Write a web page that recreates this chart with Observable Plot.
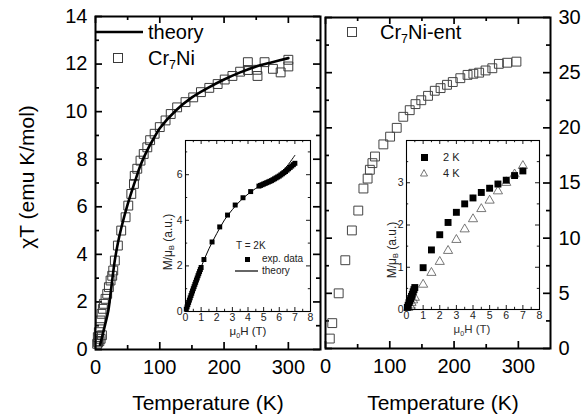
<!DOCTYPE html>
<html><head><meta charset="utf-8">
<script src="https://cdn.jsdelivr.net/npm/d3@7"></script>
<script src="https://cdn.jsdelivr.net/npm/@observablehq/plot@0.6"></script>
<style>
body{margin:0;background:#fff;}
#root{position:relative;width:585px;height:416px;overflow:hidden;background:#fff;font-family:'Liberation Sans',Arial,Helvetica,sans-serif;color:#000;}
#root > svg{position:absolute;}
.t{position:absolute;white-space:nowrap;line-height:1;}
.t sub{font-size:0.62em;vertical-align:-0.32em;line-height:0;}
</style></head><body><div id="root"></div><script>
// ---------- data: main left panel (Cr7Ni) ----------
const cr7niT   = [2.6,3.6,5.2,6.8,7.8,9.4,11.4,13,15.6,18.2,20.8,23.4,26,27.6,30.1,4,6,8,10,
                  34.8,40,46.8,51,55.7,59.8,61,65,70,75,80.6,85,92,100,109,117,127,140,152,164,177,190,201,213,225,237,237,251,252,263,276,288,300,300];
const cr7niChi = [0.24,0.52,0.73,0.94,1.22,1.5,1.71,1.92,2.13,2.34,2.62,2.9,3.1,3.32,3.74,0.3,0.35,0.45,0.6,
                  4.37,5.0,5.56,6.05,6.54,6.96,7.3,7.6,7.94,8.22,8.5,8.8,9.07,9.35,9.63,9.9,10.18,10.4,10.6,10.82,11.0,11.16,11.35,11.5,11.68,12.08,11.75,11.76,11.5,12.08,11.8,11.65,12.18,11.9];
const theoryT   = [7,10,15,20,25,30,35,40,50,60,70,80,90,100,125,150,175,200,225,250,275,300];
const theoryChi = [0.2,0.5,1.05,1.64,2.7,3.74,4.5,5.1,6.1,6.95,7.75,8.35,8.85,9.3,10.05,10.6,11.0,11.35,11.65,11.9,12.08,12.25];
// ---------- data: main right panel (Cr7Ni-ent) ----------
const entT   = [6.7,10.5,20.5,30.8,41,51,59,65.5,69,73,77,90,100.5,110.8,121,131,140,149,159.5,170,179,189,198,209.7,221,230,239,249,259.5,269.7,282.6,297];
const entChi = [0.9,2.3,5.0,8.0,10.7,12.5,14.5,15.4,16.2,16.8,17.4,18.5,19.2,20.0,21.0,21.6,22.15,22.5,22.9,23.36,23.6,23.9,24.15,24.5,24.8,24.9,25.0,25.2,25.4,25.8,25.9,26.0];
// ---------- data: left inset (T = 2K) ----------
const magH = [0.05,0.1,0.15,0.2,0.25,0.3,0.35,0.4,0.45,0.5,0.55,0.6,0.65,0.7,0.75,0.8,0.85,0.9,0.95,1.0,
              1.18,1.7,2.19,2.69,3.18,3.68,4.17,
              4.7,4.8,4.9,5.0,5.1,5.2,5.3,5.4,5.5,5.6,5.7,5.8,5.9,6.0,6.1,6.2,6.3,6.4,6.5,6.6,6.7,6.8,6.9,7.0];
const magM = [0.1,0.2,0.3,0.4,0.5,0.6,0.7,0.8,0.9,1.0,1.09,1.19,1.28,1.38,1.47,1.57,1.66,1.75,1.84,1.93,
              2.28,3.05,3.71,4.23,4.67,4.99,5.26,
              5.5,5.53,5.56,5.59,5.62,5.65,5.68,5.71,5.74,5.78,5.82,5.86,5.9,5.94,5.99,6.04,6.09,6.14,6.2,6.26,6.32,6.38,6.44,6.5];
const magTheoryH = [0,0.5,1,1.5,2,2.5,3,3.5,4,4.5,5,5.5,6,6.5,7];
const magTheoryM = [0,1.0,1.95,2.75,3.42,4.02,4.47,4.85,5.15,5.4,5.58,5.78,6.02,6.38,6.85];
// ---------- data: right inset (2 K, 4 K) ----------
const h2K = [0.05,0.1,0.15,0.2,0.25,0.3,0.35,0.4,0.45,0.5,1,1.5,2,2.5,3,3.5,4,4.5,5,5.5,6,6.5,7];
const m2K = [0.05,0.1,0.16,0.21,0.26,0.31,0.36,0.42,0.47,0.52,0.99,1.41,1.77,2.06,2.30,2.50,2.64,2.77,2.87,2.97,3.06,3.17,3.28];
const err2K = [0,0,0,0,0,0,0,0,0,0,0.03,0.04,0.05,0.05,0.06,0.06,0.07,0.07,0.07,0.07,0.08,0.08,0.08];
const h4K = [0.1,0.2,0.3,0.4,0.5,1,1.5,2,2.5,3,3.5,4,4.5,5,5.5,6,6.5,7];
const m4K = [0.04,0.1,0.16,0.22,0.28,0.59,0.87,1.13,1.39,1.65,1.90,2.14,2.38,2.58,2.80,3.0,3.2,3.4];
// ---------- tick values ----------
const tempTicks = [0,100,200,300];
const tempMinor = [50,150,250];
const chiLeftTicks = [0,2,4,6,8,10,12,14];
const chiLeftMinor = [1,3,5,7,9,11,13];
const chiRightTicks = [0,5,10,15,20,25,30];
const chiRightMinor = [2.5,7.5,12.5,17.5,22.5,27.5];
const fieldTicks = [0,1,2,3,4,5,6,7,8];
const fieldMinor = [0.5,1.5,2.5,3.5,4.5,5.5,6.5,7.5];
const mLeftTicks = [0,2,4,6];
const mLeftMinor = [1,3,5,7];
const mRightTicks = [0,1,2,3];
const mRightMinor = [0.5,1.5,2.5,3.5];

const FONT = "'Liberation Sans', Arial, Helvetica, sans-serif";
const zip = (xs, ys) => xs.map((v, i) => ({x: v, y: ys[i]}));
const style = (fs) => ({fontFamily: FONT, fontSize: fs + "px", background: "transparent", overflow: "visible", color: "black"});
const ident = d => d;
// inward ticks on all four sides: rule marks whose length (px) is converted to data units
function inTicks(xd, yd, W, H, xMaj, xMin, yMaj, yMin, L, l, sw) {
  const ky = (yd[1] - yd[0]) / H, kx = (xd[1] - xd[0]) / W;
  const out = [];
  for (const [vals, len] of [[xMaj, L], [xMin, l]]) {
    out.push(Plot.ruleX(vals, {x: ident, y1: yd[0], y2: yd[0] + len * ky, stroke: "black", strokeWidth: sw}));
    out.push(Plot.ruleX(vals, {x: ident, y1: yd[1] - len * ky, y2: yd[1], stroke: "black", strokeWidth: sw}));
  }
  for (const [vals, len] of [[yMaj, L], [yMin, l]]) {
    out.push(Plot.ruleY(vals, {y: ident, x1: xd[0], x2: xd[0] + len * kx, stroke: "black", strokeWidth: sw}));
    out.push(Plot.ruleY(vals, {y: ident, x1: xd[1] - len * kx, x2: xd[1], stroke: "black", strokeWidth: sw}));
  }
  return out;
}

const root = document.getElementById("root");
function place(el, left, top) { el.style.left = left + "px"; el.style.top = top + "px"; root.appendChild(el); }

// ---------- left main panel ----------
const leftMain = Plot.plot({
  width: 322, height: 416, marginLeft: 95, marginRight: 2, marginTop: 16, marginBottom: 67,
  x: {domain: [0, 350]}, y: {domain: [0, 14]},
  style: style(20),
  marks: [
    ...inTicks([0, 350], [0, 14], 225, 333, tempTicks, tempMinor, chiLeftTicks, chiLeftMinor, 7, 4, 1.7),
    Plot.axisX(tempTicks, {anchor: "bottom", tickSize: 0, tickPadding: 10, label: null, fontSize: 20}),
    Plot.axisY(chiLeftTicks, {anchor: "left", tickSize: 0, tickPadding: 8, label: null, fontSize: 20}),
    Plot.dot(zip(cr7niT, cr7niChi), {x: "x", y: "y", symbol: "square", r: 5, stroke: "#3a3a3a", strokeWidth: 1, fill: "none"}),
    Plot.line(zip(theoryT, theoryChi), {x: "x", y: "y", stroke: "black", strokeWidth: 2.6, curve: "catmull-rom"}),
    Plot.frame({strokeWidth: 2})
  ]
});
place(leftMain, 0, 0);

// ---------- right main panel ----------
const rightMain = Plot.plot({
  width: 285, height: 416, marginLeft: 25, marginRight: 35, marginTop: 17, marginBottom: 68,
  x: {domain: [0, 350]}, y: {domain: [0, 30]},
  style: style(20),
  marks: [
    ...inTicks([0, 350], [0, 30], 225, 331, tempTicks, tempMinor, chiRightTicks, chiRightMinor, 7, 4, 1.7),
    Plot.axisX(tempTicks, {anchor: "bottom", tickSize: 0, tickPadding: 10, label: null, fontSize: 20}),
    Plot.axisY(chiRightTicks, {anchor: "right", tickSize: 0, tickPadding: 8, label: null, fontSize: 20}),
    Plot.dot(zip(entT, entChi), {x: "x", y: "y", symbol: "square", r: 5, stroke: "#444", strokeWidth: 1, fill: "none"}),
    Plot.frame({strokeWidth: 2})
  ]
});
place(rightMain, 300, 0);

// ---------- left inset ----------
const leftInset = Plot.plot({
  width: 175, height: 220, marginLeft: 35, marginRight: 15, marginTop: 20, marginBottom: 29,
  x: {domain: [0, 8]}, y: {domain: [0, 7.5]},
  style: style(10),
  marks: [
    Plot.frame({fill: "white", stroke: "none"}),
    ...inTicks([0, 8], [0, 7.5], 125, 171, fieldTicks, fieldMinor, mLeftTicks, mLeftMinor, 4, 2.2, 0.9),
    Plot.axisX(fieldTicks, {anchor: "bottom", tickSize: 0, tickPadding: 2, label: null, fontSize: 10.5, fill: "#222"}),
    Plot.axisY(mLeftTicks, {anchor: "left", tickSize: 0, tickPadding: 3, label: null, fontSize: 10.5, fill: "#222"}),
    Plot.line(zip(magTheoryH, magTheoryM), {x: "x", y: "y", stroke: "black", strokeWidth: 1, curve: "catmull-rom"}),
    Plot.dot(zip(magH, magM), {x: "x", y: "y", symbol: "square", r: 2.8, fill: "black", stroke: "none"}),
    Plot.frame({strokeWidth: 1.1})
  ]
});
place(leftInset, 150, 120);

// ---------- right inset ----------
const d2K = h2K.map((h, i) => ({x: h, y: m2K[i], e: err2K[i]}));
const rightInset = Plot.plot({
  width: 185, height: 210, marginLeft: 36, marginRight: 16, marginTop: 20, marginBottom: 21,
  x: {domain: [0, 8]}, y: {domain: [0, 4]},
  style: style(10),
  marks: [
    Plot.frame({fill: "white", stroke: "none"}),
    ...inTicks([0, 8], [0, 4], 133, 169, fieldTicks, fieldMinor, mRightTicks, mRightMinor, 4, 2.2, 0.9),
    Plot.axisX(fieldTicks, {anchor: "bottom", tickSize: 0, tickPadding: 2, label: null, fontSize: 10.5, fill: "#222"}),
    Plot.axisY(mRightTicks, {anchor: "left", tickSize: 0, tickPadding: 3, label: null, fontSize: 10.5, fill: "#222"}),
    Plot.ruleX(d2K.filter(d => d.e > 0), {x: "x", y1: d => d.y - d.e, y2: d => d.y + d.e, stroke: "#999", strokeWidth: 0.8}),
    Plot.dot(zip(h4K, m4K), {x: "x", y: "y", symbol: "triangle", r: 3.4, stroke: "#555", strokeWidth: 0.8, fill: "none"}),
    Plot.dot(d2K, {x: "x", y: "y", symbol: "square", r: 3.9, fill: "black", stroke: "none"}),
    Plot.frame({strokeWidth: 1.1})
  ]
});
place(rightInset, 370, 120);

// ---------- text & legends (HTML overlay) ----------
function txt(html, x, y, size, {anchor = "start", rotate = 0, color = "#000"} = {}) {
  const d = document.createElement("div");
  d.className = "t";
  d.innerHTML = html;
  d.style.fontSize = size + "px";
  d.style.color = color;
  const tx = anchor === "middle" ? "-50%" : "0";
  d.style.transform = `translate(${tx},-50%)` + (rotate ? ` rotate(${rotate}deg)` : "");
  if (rotate) d.style.transformOrigin = "50% 50%";
  d.style.left = x + "px"; d.style.top = y + "px";
  root.appendChild(d);
  return d;
}
function sym(svgInner, cx, cy, w, h) {
  const s = document.createElementNS("http://www.w3.org/2000/svg", "svg");
  s.setAttribute("width", w); s.setAttribute("height", h);
  s.setAttribute("viewBox", `0 0 ${w} ${h}`);
  s.innerHTML = svgInner;
  s.style.position = "absolute";
  s.style.left = (cx - w / 2) + "px"; s.style.top = (cy - h / 2) + "px";
  root.appendChild(s);
}

txt("χT (emu K/mol)", 26, 177, 21, {anchor: "middle", rotate: -90});
txt("Temperature (K)", 208, 402, 21, {anchor: "middle"});
txt("Temperature (K)", 443, 402, 21, {anchor: "middle"});

// main legends
sym('<line x1="0" y1="2" x2="48" y2="2" stroke="black" stroke-width="2.6"/>', 119, 32, 48, 4);
txt("theory", 148, 32, 20);
sym('<rect x="0.5" y="0.5" width="9" height="9" fill="none" stroke="#3a3a3a" stroke-width="1"/>', 118, 58, 10, 10);
txt("Cr<sub>7</sub>Ni", 148, 58, 20);
sym('<rect x="0.5" y="0.5" width="9" height="9" fill="none" stroke="#444" stroke-width="1"/>', 352, 32, 10, 10);
txt("Cr<sub>7</sub>Ni-ent", 380, 32, 20);

// left inset labels
txt("M/μ<sub>B</sub> (a.u.)", 168, 242, 12, {anchor: "middle", rotate: -90, color: "#222"});
txt("μ<sub>0</sub>H (T)", 248, 332, 11.5, {anchor: "middle", color: "#222"});
txt("T = 2K", 236, 246, 10, {color: "#222"});
sym('<rect x="0" y="0" width="5" height="5" fill="black"/>', 247, 259, 5, 5);
txt("exp. data", 262, 259, 10, {color: "#222"});
sym('<line x1="0" y1="1" x2="23" y2="1" stroke="black" stroke-width="1.2"/>', 246.5, 271, 23, 2);
txt("theory", 262, 271, 10, {color: "#222"});

// right inset labels
txt("M/μ<sub>B</sub> (a.u.)", 392, 250, 12, {anchor: "middle", rotate: -90, color: "#222"});
txt("μ<sub>0</sub>H (T)", 472, 330, 11.5, {anchor: "middle", color: "#333"});
sym('<rect x="0" y="0" width="7" height="7" fill="black"/>', 424, 157, 7, 7);
txt("2 K", 443, 157, 11, {color: "#222"});
sym('<polygon points="4,0.6 7.5,7 0.5,7" fill="none" stroke="#555" stroke-width="0.8"/>', 424, 173, 8, 8);
txt("4 K", 443, 173, 11, {color: "#222"});
</script></body></html>
